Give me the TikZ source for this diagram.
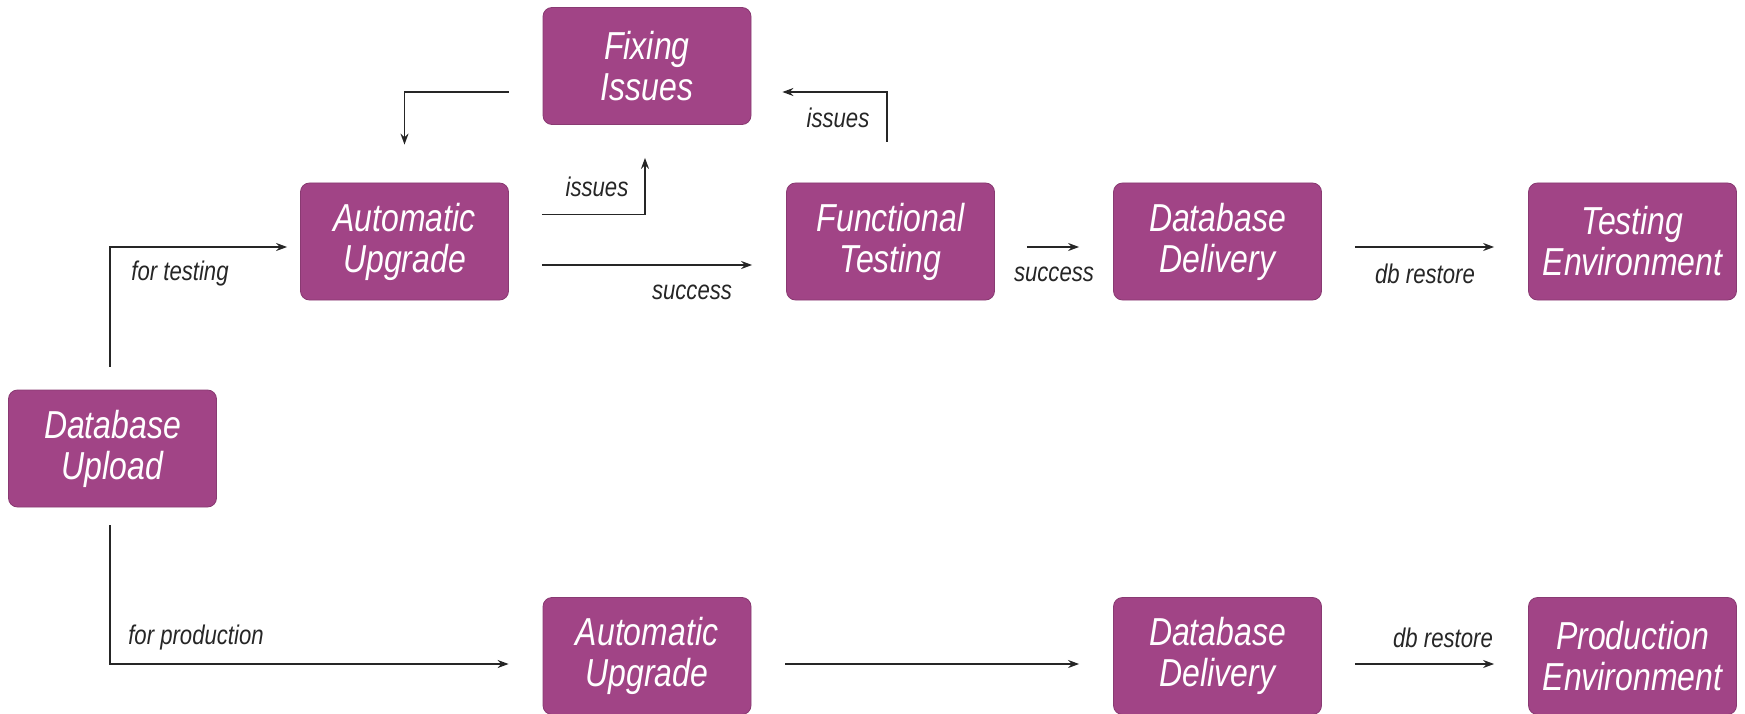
\documentclass[tikz,border=0pt]{standalone}
\usepackage{fontspec}
\setmainfont{Liberation Sans}[FakeStretch=0.82]
\usetikzlibrary{arrows.meta}
\definecolor{boxpurple}{RGB}{161,68,134}
\tikzset{
  procbox/.style={draw=boxpurple!85!black, line width=0.8pt, fill=boxpurple, rounded corners=9pt,
    minimum width=208pt, minimum height=117pt, inner sep=0pt, align=center,
    text=white, font=\fontsize{39}{41}\selectfont\itshape},
  conn/.style={draw=black!85, line width=1.6pt, -{Stealth[length=11pt,width=8pt]}},
  lbl/.style={inner sep=0pt, text=black!85, font=\fontsize{27}{29}\selectfont\itshape}
}
\begin{document}
\begin{tikzpicture}[x=1pt,y=-1pt]
\useasboundingbox (0,0) rectangle (1745,714);
% nodes
\node[procbox] (fi)  at (647,66)     {Fixing\\Issues};
\node[procbox] (au1) at (404.5,241.5) {Automatic\\Upgrade};
\node[procbox] (ft)  at (890.5,241.5) {Functional\\Testing};
\node[procbox] (dd1) at (1217.5,241.5) {Database\\Delivery};
\node[procbox] (te)  at (1632.5,241.5) {Testing\\Environment};
\node[procbox] (du)  at (112.5,448.5) {Database\\Upload};
\node[procbox] (au2) at (647,656)    {Automatic\\Upgrade};
\node[procbox] (dd2) at (1217.5,656) {Database\\Delivery};
\node[procbox] (pe)  at (1632.5,656) {Production\\Environment};
% connectors
\draw[conn, shorten <=34pt, shorten >=38pt] ([yshift=-26pt]fi.west) -| (au1.north);
\draw[conn, shorten <=33pt, shorten >=33pt] ([yshift=27pt]au1.east) -| ([xshift=-2pt]fi.south);
\draw[conn, shorten <=33pt, shorten >=34pt] ([yshift=-23.5pt]au1.east) -- ([yshift=-23.5pt]ft.west);
\draw[conn, shorten <=41pt, shorten >=31pt] ([xshift=-3.5pt]ft.north) |- ([yshift=-26pt]fi.east);
\draw[conn, shorten <=32pt, shorten >=34pt] ([yshift=-5.5pt]ft.east) -- ([yshift=-5.5pt]dd1.west);
\draw[conn, shorten <=33pt, shorten >=34pt] ([yshift=-5.5pt]dd1.east) -- ([yshift=-5.5pt]te.west);
\draw[conn, shorten <=23pt, shorten >=13pt] ([xshift=-2.5pt]du.north) |- ([yshift=-5.5pt]au1.west);
\draw[conn, shorten <=18pt, shorten >=34pt] ([xshift=-2.5pt]du.south) |- ([yshift=-8pt]au2.west);
\draw[conn, shorten <=34pt, shorten >=34pt] ([yshift=-8pt]au2.east) -- ([yshift=-8pt]dd2.west);
\draw[conn, shorten <=33pt, shorten >=34pt] ([yshift=-8pt]dd2.east) -- ([yshift=-8pt]pe.west);
% labels
\node[lbl] (l1) at (597,187) {issues};
\node[lbl] (l2) at (692,292) {success};
\node[lbl] (l3) at (838,118) {issues};
\node[lbl] (l4) at (1054,274) {success};
\node[lbl] (l5) at (1425,274) {db restore};
\node[lbl] (l6) at (180,274) {for testing};
\node[lbl] (l7) at (196,638) {for production};
\node[lbl] (l8) at (1443,638) {db restore};
\end{tikzpicture}
\end{document}
